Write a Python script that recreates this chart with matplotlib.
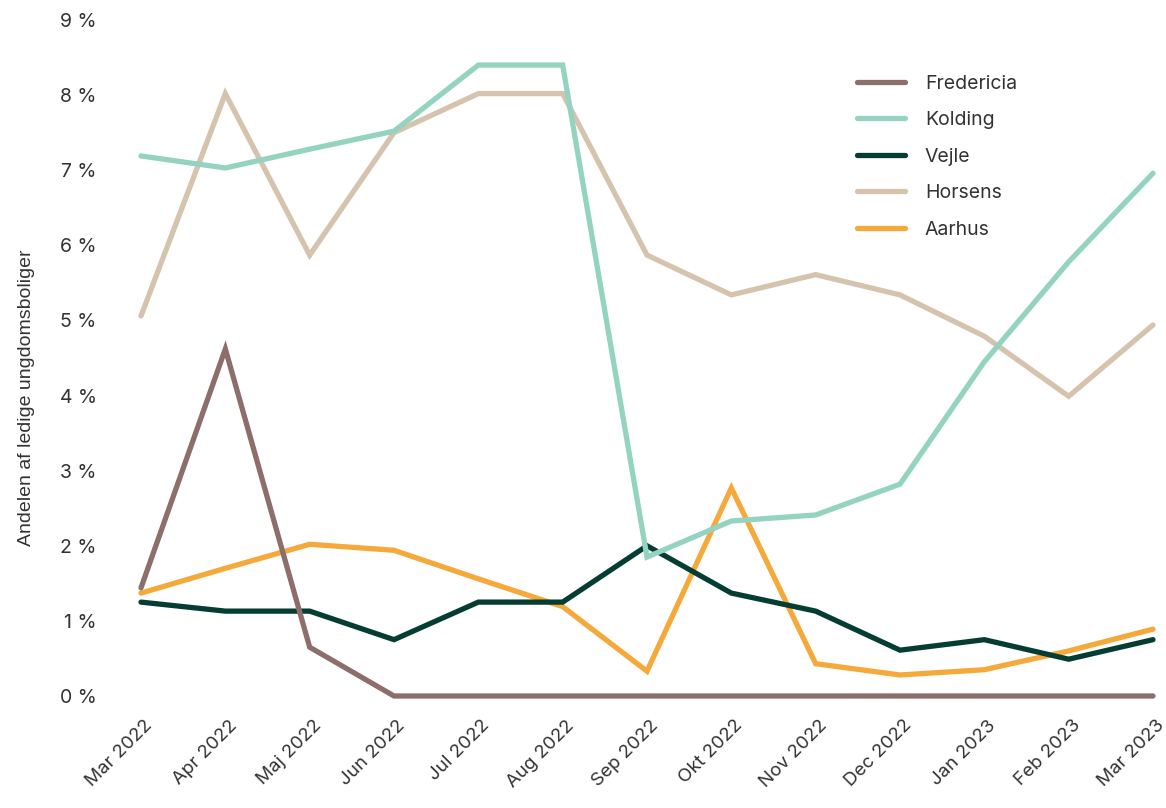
import matplotlib.pyplot as plt
import matplotlib.transforms as mtransforms

months = ["Mar 2022", "Apr 2022", "Maj 2022", "Jun 2022", "Jul 2022", "Aug 2022",
          "Sep 2022", "Okt 2022", "Nov 2022", "Dec 2022", "Jan 2023", "Feb 2023", "Mar 2023"]

fredericia = [1.44, 4.62, 0.65, 0, 0, 0, 0, 0, 0, 0, 0, 0, 0]
kolding = [7.19, 7.03, 7.28, 7.52, 8.40, 8.40, 1.85, 2.33, 2.41, 2.82, 4.45, 5.78, 6.96]
vejle = [1.25, 1.13, 1.13, 0.75, 1.25, 1.25, 2.0, 1.37, 1.13, 0.61, 0.75, 0.49, 0.75]
horsens = [5.06, 8.02, 5.87, 7.50, 8.02, 8.02, 5.87, 5.34, 5.61, 5.34, 4.79, 3.99, 4.94]
aarhus = [1.37, 1.70, 2.02, 1.94, 1.56, 1.19, 0.33, 2.77, 0.43, 0.28, 0.35, 0.60, 0.89]

series = [
	("Fredericia", fredericia, "#8c6e6a"),
	("Kolding", kolding, "#93d3c0"),
	("Vejle", vejle, "#053d33"),
	("Horsens", horsens, "#d5c3ae"),
	("Aarhus", aarhus, "#f5a93a"),
]

plt.rcParams['font.family'] = ['Inter', 'DejaVu Sans']

fig = plt.figure(figsize=(11.66, 8.08), dpi=100)
ax = fig.add_axes([141 / 1166, 112 / 808, 1012 / 1166, 676 / 808])

x = list(range(len(months)))
# draw in reverse so Fredericia ends up on top like the original
for name, vals, col in series[::-1]:
	ax.plot(x, vals, color=col, lw=3.8, solid_capstyle='round',
	        solid_joinstyle='miter', clip_on=False, label=name)

ax.set_xlim(0, 12)
ax.set_ylim(0, 9)
ax.set_yticks(range(10))
ax.set_yticklabels(["{} %".format(i) for i in range(10)])
ax.set_xticks(x)
ax.set_xticklabels(months, rotation=45, ha='right', rotation_mode='anchor')

ax.tick_params(axis='y', length=0, pad=32, labelsize=14, labelcolor='#333333')
ax.tick_params(axis='x', length=0, pad=15, labelsize=13.5, labelcolor='#333333')
for s in ax.spines.values():
	s.set_visible(False)

# nudge the rotated month labels a little right, like the original
shift = mtransforms.ScaledTranslation(3 / 100, 0, fig.dpi_scale_trans)
for lbl in ax.get_xticklabels():
	lbl.set_transform(lbl.get_transform() + shift)

ax.set_ylabel("Andelen af ledige ungdomsboliger", fontsize=14, color='#333333',
              family=['Liberation Sans', 'DejaVu Sans'])
ax.yaxis.set_label_coords(-0.105, 0.442)

handles, labels = ax.get_legend_handles_labels()
ax.legend(handles[::-1], labels[::-1], loc='upper left', bbox_to_anchor=(0.69, 0.945),
          frameon=False, fontsize=14, handlelength=2.5, handletextpad=1.0,
          labelspacing=0.95, labelcolor='#333333')

fig.savefig('out.png', dpi=100)
